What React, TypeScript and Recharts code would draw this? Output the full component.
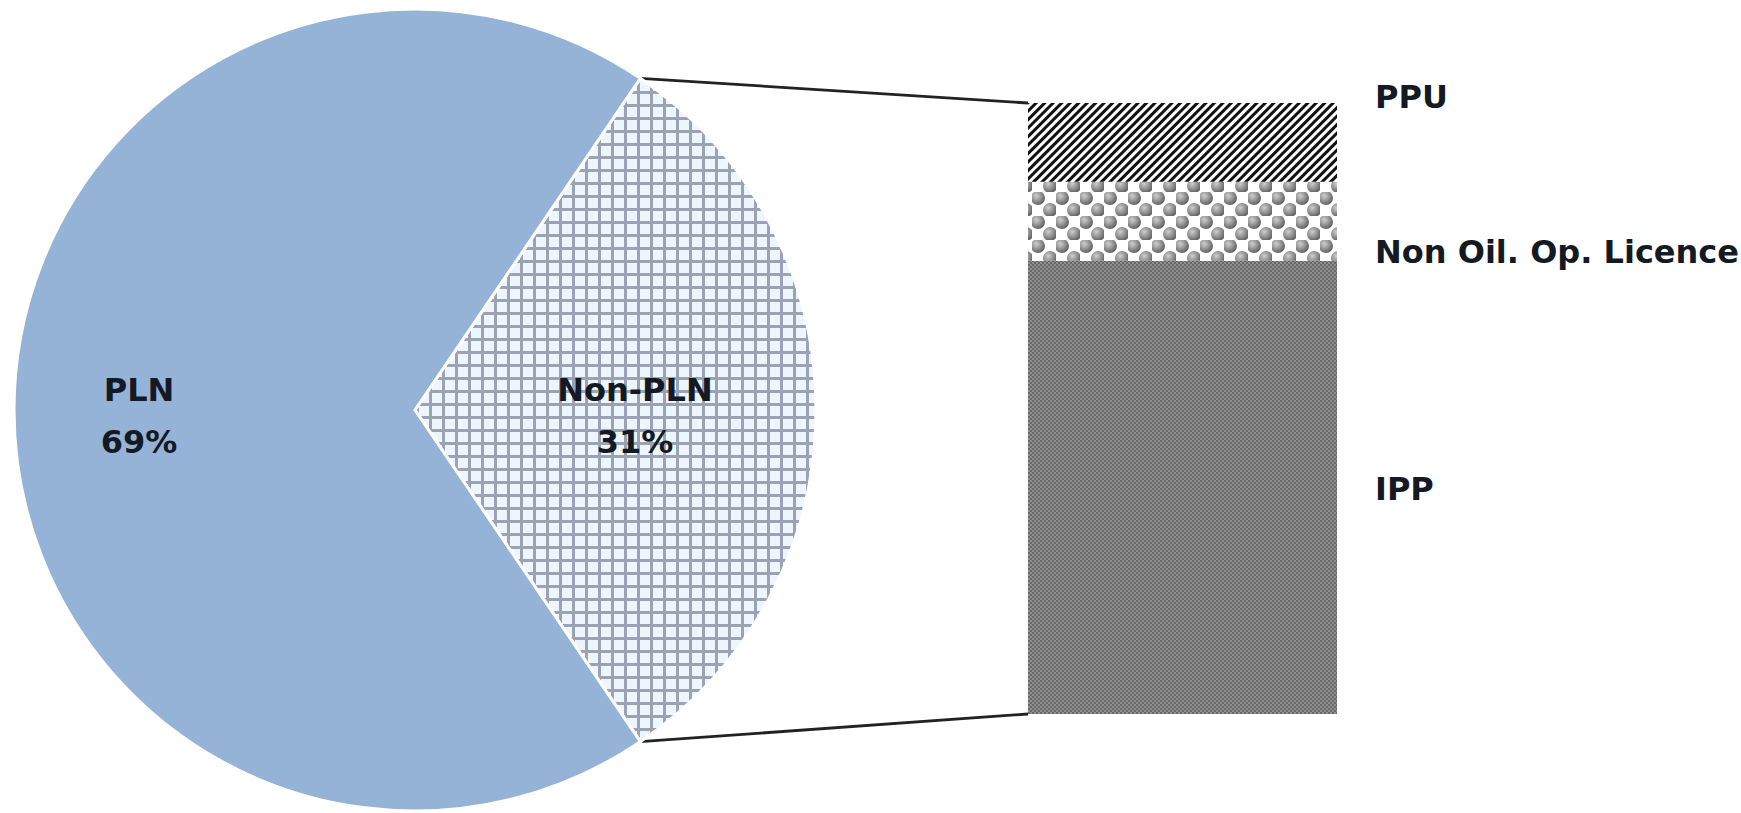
import React from "react";
import { PieChart, Pie, Cell, BarChart, Bar, XAxis, YAxis, LabelList } from "recharts";

// main pie: share of supply
const pieNames = ["Non-PLN", "PLN"];
const pieShares = [31, 69];

// breakdown of the Non-PLN slice, bottom to top
const barCategories = ["Non-PLN"];
const barNames = ["IPP", "Non Oil. Op. Licence", "PPU"];
const barShares = [23, 4, 4];

const W = 1741;
const H = 813;
const PIE_CX = 415;
const PIE_CY = 410;
const PIE_R = 401;
const BAR_LEFT = 1028;
const BAR_RIGHT = 1337;
const BAR_TOP = 103;
const BAR_BOTTOM = 714;

const FONT = "'DejaVu Sans', Verdana, sans-serif";
const FONT_SIZE = 32;
const TEXT_COLOR = "#141a24";

const pieData = pieNames.map((name, i) => ({ name, value: pieShares[i] }));
const pieFills = ["url(#gridFill)", "#95B3D7"];
const pieTotal = pieShares.reduce((a, b) => a + b, 0);
const halfAngle = ((pieShares[0] / pieTotal) * 360) / 2;

const barRow: Record<string, string | number> = { name: barCategories[0] };
barNames.forEach((_, i) => (barRow["s" + i] = barShares[i]));
const barData = [barRow];
const barTotal = barShares.reduce((a, b) => a + b, 0);
const barFills = ["url(#fineFill)", "url(#ballFill)", "url(#stripeFill)"];
// label nudges relative to segment middle
const barLabelDy = [2, 31, -45];

const pieLabelR: Record<string, number> = { PLN: 276, "Non-PLN": 220 };

const RAD = Math.PI / 180;

function renderPieLabel(p: any) {
  const name = p.payload?.name ?? p.name;
  const r = pieLabelR[name];
  const x = p.cx + r * Math.cos(-p.midAngle * RAD);
  const y = p.cy + r * Math.sin(-p.midAngle * RAD);
  return (
    <text
      x={x}
      y={y}
      textAnchor="middle"
      fill={TEXT_COLOR}
      fontFamily={FONT}
      fontWeight={700}
      fontSize={FONT_SIZE}
    >
      <tspan x={x} dy={-9}>{name}</tspan>
      <tspan x={x} dy={52}>{Math.round(p.percent * 100)}%</tspan>
    </text>
  );
}

function barLabel(i: number) {
  return (p: any) => {
    const x = Number(p.x) + Number(p.width) + 38;
    const y = Number(p.y) + Number(p.height) / 2 + barLabelDy[i];
    return (
      <text
        x={x}
        y={y}
        dominantBaseline="central"
        fill={TEXT_COLOR}
        fontFamily={FONT}
        fontWeight={700}
        fontSize={FONT_SIZE}
      >
        {barNames[i]}
      </text>
    );
  };
}

function Patterns() {
  return (
    <defs>
      <pattern id="gridFill" width="13" height="13" patternUnits="userSpaceOnUse">
        <rect width="13" height="13" fill="#edf5fe" />
        <path d="M0 1.5H13M1.5 0V13" stroke="#9aa2b4" strokeWidth="3" />
      </pattern>
      <pattern
        id="stripeFill"
        width="6"
        height="6"
        patternUnits="userSpaceOnUse"
        patternTransform="rotate(45)"
      >
        <rect width="6" height="6" fill="#ffffff" />
        <rect width="3" height="6" fill="#111111" />
      </pattern>
      <radialGradient id="ballGrad" cx="0.38" cy="0.35" r="0.65">
        <stop offset="0" stopColor="#cfcfcf" />
        <stop offset="1" stopColor="#626262" />
      </radialGradient>
      <pattern id="ballFill" width="24" height="24" patternUnits="userSpaceOnUse">
        <rect width="24" height="24" fill="#ffffff" />
        <circle cx="6" cy="6" r="7" fill="url(#ballGrad)" />
        <circle cx="18" cy="18" r="7" fill="url(#ballGrad)" />
      </pattern>
      <pattern id="fineFill" width="4" height="4" patternUnits="userSpaceOnUse">
        <rect width="4" height="4" fill="#8e8e8e" />
        <rect width="2" height="2" fill="#696969" />
        <rect x="2" y="2" width="2" height="2" fill="#696969" />
      </pattern>
    </defs>
  );
}

export default function App() {
  const cornerX = PIE_CX + PIE_R * Math.cos(halfAngle * RAD);
  const cornerDy = PIE_R * Math.sin(halfAngle * RAD);
  const layer: React.CSSProperties = { position: "absolute", left: 0, top: 0 };

  return (
    <div style={{ position: "absolute", left: 0, top: 0, width: W, height: H, background: "#fff" }}>
      <svg width={W} height={H} style={layer}>
        <Patterns />
        <line x1={cornerX} y1={PIE_CY - cornerDy} x2={BAR_LEFT} y2={BAR_TOP} stroke="#222" strokeWidth={2.8} />
        <line x1={cornerX} y1={PIE_CY + cornerDy} x2={BAR_LEFT} y2={BAR_BOTTOM} stroke="#222" strokeWidth={2.8} />
      </svg>
      <div style={layer}>
        <PieChart width={W} height={H} margin={{ top: 0, right: 0, bottom: 0, left: 0 }}>
          <Pie
            data={pieData}
            dataKey="value"
            nameKey="name"
            cx={PIE_CX}
            cy={PIE_CY}
            outerRadius={PIE_R}
            startAngle={-halfAngle}
            endAngle={360 - halfAngle}
            stroke="#ffffff"
            strokeWidth={3}
            label={renderPieLabel}
            labelLine={false}
            isAnimationActive={false}
          >
            {pieData.map((d, i) => (
              <Cell key={d.name} fill={pieFills[i]} />
            ))}
          </Pie>
        </PieChart>
      </div>
      <div style={layer}>
        <BarChart
          width={W}
          height={H}
          data={barData}
          barCategoryGap={0}
          margin={{ top: BAR_TOP, left: BAR_LEFT, right: W - BAR_RIGHT, bottom: H - BAR_BOTTOM }}
        >
          <XAxis dataKey="name" hide />
          <YAxis type="number" domain={[0, barTotal]} hide />
          {barNames.map((n, i) => (
            <Bar
              key={n}
              dataKey={"s" + i}
              name={n}
              stackId="nonpln"
              fill={barFills[i]}
              isAnimationActive={false}
            >
              <LabelList content={barLabel(i)} />
            </Bar>
          ))}
        </BarChart>
      </div>
    </div>
  );
}
